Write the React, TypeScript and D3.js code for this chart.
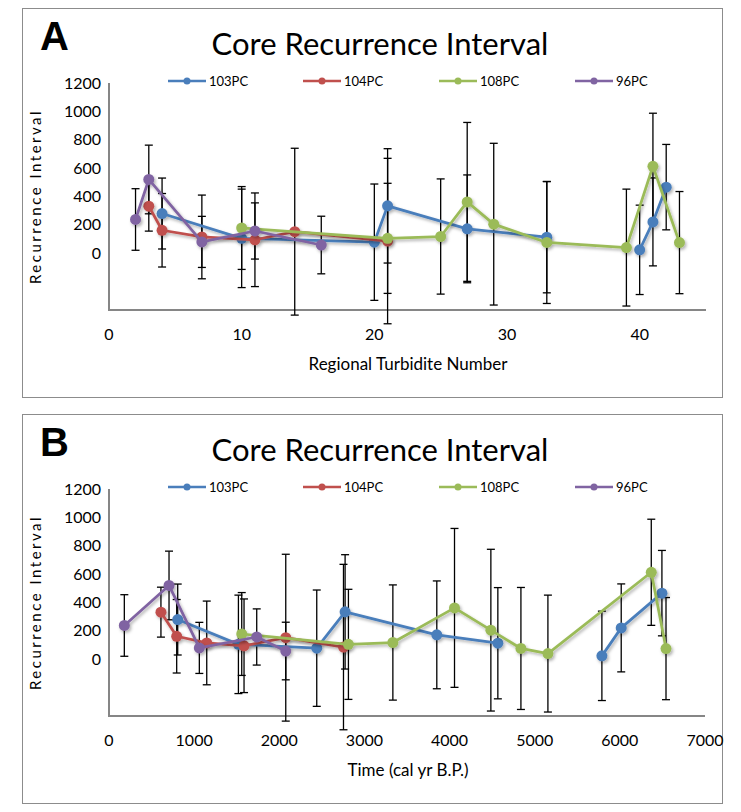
import React from "react";
import * as d3 from "d3";

// Core recurrence intervals (years) with ± uncertainty, by core.
// A null entry is a blank cell: the series line breaks there.
const turbidite103 = [4, 10, 20, 21, 27, 33, null, 40, 41, 42];
const age103 = [807, 1520, 2440, 2773, 3850, 4567, null, 5789, 6016, 6494];
const interval103 = [280, 105, 78, 334, 172, 113, null, 24, 221, 466];
const error103 = [250, 347, 410, 403, 380, 392, null, 315, 310, 301];

const turbidite104 = [3, 4, 7, 11, 14, 21];
const age104 = [610, 795, 1148, 1586, 2076, 2754];
const interval104 = [332, 162, 115, 95, 152, 86];
const error104 = [176, 259, 295, 330, 588, 583];

const turbidite108 = [10, 21, 25, 27, 29, 33, 39, 41, 43];
const age108 = [1559, 2812, 3334, 4058, 4485, 4838, 5155, 6369, 6542];
const interval108 = [178, 105, 118, 362, 205, 76, 40, 613, 75];
const error108 = [292, 388, 406, 560, 570, 430, 412, 374, 360];

const turbidite96 = [2, 3, 7, 11, 16];
const age96 = [180, 705, 1061, 1735, 2076];
const interval96 = [238, 520, 80, 157, 58];
const error96 = [217, 242, 180, 198, 203];

const seriesNames = ["103PC", "104PC", "108PC", "96PC"];
const seriesColors = ["#4A7EBB", "#C0504D", "#9BBB59", "#8064A2"];

const yTicks = [0, 200, 400, 600, 800, 1000, 1200];
const turbiditeTicks = [0, 10, 20, 30, 40];
const ageTicks = [0, 1000, 2000, 3000, 4000, 5000, 6000, 7000];

type Num = number | null;
type Pt = { x: Num; y: Num; e: Num };

const build = (xs: Num[], ys: Num[], es: Num[]): Pt[] =>
  xs.map((x, i) => ({ x, y: ys[i], e: es[i] }));

const turbiditeSeries = [
  build(turbidite103, interval103, error103),
  build(turbidite104, interval104, error104),
  build(turbidite108, interval108, error108),
  build(turbidite96, interval96, error96),
];
const ageSeries = [
  build(age103, interval103, error103),
  build(age104, interval104, error104),
  build(age108, interval108, error108),
  build(age96, interval96, error96),
];

const FONT = "Lato, 'Open Sans', sans-serif";
const AXIS_GREY = "#868686";

const hasValue = (d: Pt) => d.x != null && d.y != null;

type PanelProps = {
  top: number;
  letter: string;
  xLabel: string;
  xDomain: [number, number];
  xTicks: number[];
  xRight: number;
  data: Pt[][];
};

function Panel({ top, letter, xLabel, xDomain, xTicks, xRight, data }: PanelProps) {
  const plotTop = top + 75;
  const plotBottom = top + 302;
  const x = d3.scaleLinear().domain(xDomain).range([109, xRight]);
  const y = d3.scaleLinear().domain([-400, 1200]).range([plotBottom, plotTop]);
  const line = d3
    .line<Pt>()
    .defined(hasValue)
    .x((d) => x(d.x as number))
    .y((d) => y(d.y as number));
  const legendX = [168, 303, 439, 575];
  const legendY = top + 73;
  return (
    <g>
      <rect x={22.5} y={top + 0.5} width={700} height={389} fill="#fff" stroke="#8c8c8c" strokeWidth={1} />
      <text x={40} y={top + 42} fontFamily="'Liberation Sans', Arial, sans-serif" fontWeight="bold" fontSize={40} fill="#000">
        {letter}
      </text>
      <text x={380} y={top + 47} textAnchor="middle" fontFamily={FONT} fontSize={31} fill="#000">
        Core Recurrence Interval
      </text>

      {/* legend */}
      {seriesNames.map((name, i) => (
        <g key={name}>
          <line x1={legendX[i]} x2={legendX[i] + 38} y1={legendY} y2={legendY} stroke={seriesColors[i]} strokeWidth={2.5} />
          <circle cx={legendX[i] + 19} cy={legendY} r={3.5} fill={seriesColors[i]} />
          <text x={legendX[i] + 41} y={legendY + 4.5} fontFamily={FONT} fontSize={13} fill="#000">
            {name}
          </text>
        </g>
      ))}

      {/* axes */}
      <line x1={109} x2={109} y1={plotTop} y2={plotBottom} stroke={AXIS_GREY} strokeWidth={2} />
      <line x1={108} x2={xRight} y1={plotBottom} y2={plotBottom} stroke={AXIS_GREY} strokeWidth={2} />
      {yTicks.map((t) => (
        <text key={t} x={101} y={y(t) + 5.5} textAnchor="end" fontFamily={FONT} fontSize={16} fill="#000">
          {t}
        </text>
      ))}
      {xTicks.map((t) => (
        <text key={t} x={x(t)} y={plotBottom + 30} textAnchor="middle" fontFamily={FONT} fontSize={16} fill="#000">
          {t}
        </text>
      ))}
      <text
        transform={`translate(41,${(plotTop + plotBottom) / 2}) rotate(-90)`}
        textAnchor="middle"
        fontFamily={FONT}
        fontSize={15}
        letterSpacing={2.5}
        fill="#000"
      >
        Recurrence Interval
      </text>
      <text x={408} y={plotBottom + 60} textAnchor="middle" fontFamily={FONT} fontSize={17} fill="#000">
        {xLabel}
      </text>

      {/* error bars */}
      {data.map((s, si) =>
        s
          .filter((d) => hasValue(d) && d.e != null)
          .map((d, i) => {
            const cx = x(d.x as number);
            const y1 = y((d.y as number) + (d.e as number));
            const y2 = y((d.y as number) - (d.e as number));
            return (
              <g key={`${si}-${i}`} stroke="#000" strokeWidth={1.3}>
                <line x1={cx} x2={cx} y1={y1} y2={y2} />
                <line x1={cx - 4} x2={cx + 4} y1={y1} y2={y1} />
                <line x1={cx - 4} x2={cx + 4} y1={y2} y2={y2} />
              </g>
            );
          })
      )}

      {/* series */}
      {data.map((s, si) => (
        <g key={si} filter="url(#softShadow)">
          <path d={line(s) ?? ""} fill="none" stroke={seriesColors[si]} strokeWidth={2.75} strokeLinejoin="round" />
          {s.filter(hasValue).map((d, i) => (
            <circle key={i} cx={x(d.x as number)} cy={y(d.y as number)} r={5.5} fill={seriesColors[si]} />
          ))}
        </g>
      ))}
    </g>
  );
}

export default function App() {
  return (
    <svg
      width={741}
      height={812}
      style={{ position: "absolute", left: 0, top: 0, background: "#fff" }}
    >
      <defs>
        <filter id="softShadow" x="-10%" y="-10%" width="120%" height="130%">
          <feDropShadow dx={1.5} dy={2} stdDeviation={1.5} floodColor="#000" floodOpacity={0.3} />
        </filter>
      </defs>
      <rect width={741} height={812} fill="#fff" />
      <Panel
        top={8}
        letter="A"
        xLabel="Regional Turbidite Number"
        xDomain={[0, 45]}
        xTicks={turbiditeTicks}
        xRight={706}
        data={turbiditeSeries}
      />
      <Panel
        top={414}
        letter="B"
        xLabel="Time (cal yr B.P.)"
        xDomain={[0, 7000]}
        xTicks={ageTicks}
        xRight={705}
        data={ageSeries}
      />
    </svg>
  );
}
